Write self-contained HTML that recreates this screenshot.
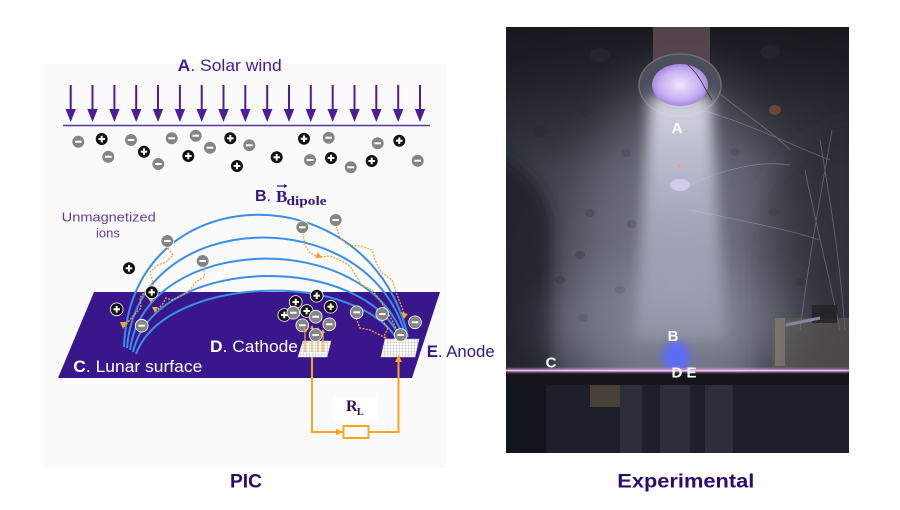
<!DOCTYPE html>
<html><head><meta charset="utf-8"><style>
html,body{margin:0;padding:0;background:#fff;}
svg{display:block;}
text{font-family:"Liberation Sans",sans-serif;}
.serif{font-family:"Liberation Serif",serif;}
</style></head><body>
<svg width="900" height="510" viewBox="0 0 900 510" xmlns="http://www.w3.org/2000/svg">
<defs>
  <g id="m"><circle r="6.4" fill="#858585" stroke="#fff" stroke-width="0.8"/><line x1="-3.3" y1="0" x2="3.3" y2="0" stroke="#fff" stroke-width="2"/></g>
  <g id="p"><circle r="6.4" fill="#111" stroke="#fff" stroke-width="0.8"/><line x1="-3.3" y1="0" x2="3.3" y2="0" stroke="#fff" stroke-width="2"/><line x1="0" y1="-3.3" x2="0" y2="3.3" stroke="#fff" stroke-width="2"/></g>
  <g id="ar"><line x1="0" y1="85" x2="0" y2="112" stroke="#4b1d96" stroke-width="2"/><polygon points="-5.2,109 5.2,109 0,122" fill="#4b1d96"/></g>
  <pattern id="grid" width="3" height="3" patternUnits="userSpaceOnUse"><rect width="3" height="3" fill="#fff"/><path d="M0,0H3M0,0V3" stroke="#999" stroke-width="0.6"/></pattern>
  <clipPath id="ph"><rect x="506" y="27" width="343" height="426"/></clipPath>
  <radialGradient id="bg" cx="680" cy="280" r="300" gradientUnits="userSpaceOnUse">
    <stop offset="0" stop-color="#5e606c"/><stop offset="0.5" stop-color="#42444f"/><stop offset="1" stop-color="#24252d"/>
  </radialGradient>
  <linearGradient id="topdark" x1="0" y1="27" x2="0" y2="170" gradientUnits="userSpaceOnUse">
    <stop offset="0" stop-color="#15161c" stop-opacity="0.85"/><stop offset="1" stop-color="#15161c" stop-opacity="0"/>
  </linearGradient>
  <linearGradient id="beam" x1="0" y1="95" x2="0" y2="380" gradientUnits="userSpaceOnUse">
    <stop offset="0" stop-color="#eef0ff" stop-opacity="0.85"/><stop offset="0.4" stop-color="#d0d4ea" stop-opacity="0.6"/><stop offset="1" stop-color="#b8bcd4" stop-opacity="0.2"/>
  </linearGradient>
  <radialGradient id="noz" cx="0.5" cy="0.5" r="0.5">
    <stop offset="0" stop-color="#efe4ff"/><stop offset="0.7" stop-color="#c9b2f2"/><stop offset="1" stop-color="#a68ae0"/>
  </radialGradient>
  <filter id="b25" filterUnits="userSpaceOnUse" x="380" y="-100" width="600" height="700"><feGaussianBlur stdDeviation="22"/></filter>
  <filter id="b12" filterUnits="userSpaceOnUse" x="380" y="-100" width="600" height="700"><feGaussianBlur stdDeviation="12"/></filter>
  <filter id="b8" filterUnits="userSpaceOnUse" x="380" y="-100" width="600" height="700"><feGaussianBlur stdDeviation="7"/></filter>
  <filter id="b4" filterUnits="userSpaceOnUse" x="380" y="-100" width="600" height="700"><feGaussianBlur stdDeviation="4"/></filter>
  <filter id="b1" filterUnits="userSpaceOnUse" x="380" y="-100" width="600" height="700"><feGaussianBlur stdDeviation="1.2"/></filter>
</defs>

<!-- LEFT PANEL -->
<rect x="43" y="64" width="404" height="404" fill="#fafafa"/>
<text x="177.7" y="71" font-size="17" fill="#4a1a96" textLength="104" lengthAdjust="spacingAndGlyphs"><tspan font-weight="bold">A</tspan>. Solar wind</text>

<g>
<use href="#ar" x="70.7"/><use href="#ar" x="92.5"/><use href="#ar" x="114.4"/><use href="#ar" x="136.2"/><use href="#ar" x="158.0"/><use href="#ar" x="179.9"/><use href="#ar" x="201.7"/><use href="#ar" x="223.5"/><use href="#ar" x="245.3"/><use href="#ar" x="267.2"/><use href="#ar" x="289.0"/><use href="#ar" x="310.8"/><use href="#ar" x="332.7"/><use href="#ar" x="354.5"/><use href="#ar" x="376.3"/><use href="#ar" x="398.2"/><use href="#ar" x="420.0"/>
</g>
<line x1="63" y1="125.5" x2="430" y2="125.5" stroke="#5a32a8" stroke-width="1.4"/>

<g>
<use href="#m" x="78.3" y="141.7"/><use href="#p" x="101.7" y="139"/><use href="#m" x="108.3" y="156.7"/><use href="#m" x="131" y="140"/><use href="#p" x="144" y="151.7"/><use href="#m" x="158.3" y="164"/><use href="#m" x="171.7" y="138.3"/><use href="#m" x="195.7" y="135.7"/><use href="#p" x="188.3" y="156"/><use href="#m" x="210" y="147.7"/><use href="#p" x="230.3" y="138.3"/><use href="#p" x="237" y="166"/><use href="#m" x="249.3" y="145.3"/><use href="#p" x="276.7" y="157.3"/><use href="#p" x="304" y="138.7"/><use href="#m" x="328.7" y="137.7"/><use href="#m" x="310" y="160"/><use href="#p" x="331" y="158"/><use href="#m" x="350.7" y="167.3"/><use href="#p" x="371.7" y="161"/><use href="#m" x="377.7" y="143.3"/><use href="#p" x="399.3" y="140.7"/><use href="#m" x="417.7" y="160.7"/>
</g>

<!-- B label -->
<text x="255" y="201" font-size="16" fill="#3a1480"><tspan font-weight="bold">B</tspan>.</text>
<text class="serif" x="276" y="202" font-size="17" font-weight="bold" fill="#3a1480">B</text>
<line x1="277" y1="186" x2="284" y2="186" stroke="#3a1480" stroke-width="1.2"/>
<polygon points="284,184 287.5,186 284,188" fill="#3a1480"/>
<text class="serif" x="286.5" y="205" font-size="12.5" font-weight="bold" fill="#3a1480" textLength="40" lengthAdjust="spacingAndGlyphs">dipole</text>

<text x="61.7" y="221.7" font-size="13" fill="#6a3aa0" textLength="94" lengthAdjust="spacingAndGlyphs">Unmagnetized</text>
<text x="96" y="237.7" font-size="13" fill="#6a3aa0">ions</text>

<!-- surface -->
<polygon points="94,292 440,292 412,378 58,378" fill="#3a168c"/>

<!-- field lines -->
<g fill="none" stroke="#3a8ee6" stroke-width="2">
<path d="M124,347 C130,175 370,170 408,337"/>
<path d="M127,348 C138,205 372,200 406,338"/>
<path d="M130,350 C146,232 370,228 404,340"/>
<path d="M133,352 C155,255 365,250 402,342"/>
<path d="M136,354 C165,275 360,268 400,344"/>
</g>

<!-- trajectories -->
<g fill="none" stroke="#f2a531" stroke-width="1.3" stroke-dasharray="2 1.3">
<polyline points="168,248 173,255 166,262 158,265 150,272 153,282 146,290 140,298 141,308 134,315 128,322 124,327"/>
<polyline points="203,267 205,276 196,282 190,290 181,296 172,300 166,298 162,305 156,311"/>
<polyline points="303,233 305,245 310,253 318,257 330,256 342,261 350,266 356,276 362,285 372,290 380,300 386,310 392,320 398,333"/>
<polyline points="336,226 340,238 348,245 360,246 372,250 376,262 381,272 392,280 396,292 401,305 405,316"/>
<polyline points="356,318 360,328 370,330 380,335 392,342"/>
<polyline points="382,320 388,328 384,336 390,342"/>
</g>
<g fill="#f2a531">
<polygon points="120,322 127,322 123,329"/><polygon points="152,307 158,307 155,313"/><polygon points="318,252 322,258 315,258"/><polygon points="401,312 408,314 404,319"/><polygon points="148,298 154,298 151,303"/>
</g>

<!-- particles lower -->
<g>
<use href="#m" x="167.3" y="241"/><use href="#m" x="202.7" y="261"/><use href="#p" x="129" y="268.3"/><use href="#p" x="151.7" y="292.3"/><use href="#p" x="116.7" y="309.3"/><use href="#m" x="141.7" y="325.7"/>
<use href="#m" x="302.3" y="227.3"/><use href="#m" x="335.7" y="220"/>
<use href="#p" x="284.3" y="315"/><use href="#p" x="295.7" y="302"/><use href="#p" x="316.7" y="295.7"/><use href="#p" x="330.7" y="306.7"/><use href="#p" x="306.7" y="311"/>
<use href="#m" x="293.3" y="312.7"/><use href="#m" x="315.7" y="316.7"/><use href="#m" x="302.3" y="325.3"/><use href="#m" x="329.3" y="324.3"/>
<use href="#m" x="356.7" y="312.3"/><use href="#m" x="382.3" y="314"/><use href="#m" x="415" y="322.3"/>
</g>

<!-- cathode / anode grids -->
<polygon points="303,341 331,341 327,357 298,357" fill="url(#grid)" stroke="#ccc" stroke-width="0.6"/>
<polygon points="385,339 419,339 415,357 381,357" fill="url(#grid)" stroke="#ccc" stroke-width="0.6"/>
<g stroke="#f2a531" stroke-width="1.2">
<line x1="305" y1="352" x2="305" y2="331"/><line x1="312" y1="352" x2="312" y2="328"/><line x1="318" y1="352" x2="318" y2="330"/><line x1="323" y1="352" x2="323" y2="332"/>
</g>
<g fill="#f2a531"><polygon points="303,332 307,332 305,328"/><polygon points="310,329 314,329 312,325"/><polygon points="316,331 320,331 318,327"/><polygon points="321,333 325,333 323,329"/></g>
<use href="#m" x="315.7" y="335"/>
<use href="#m" x="400.7" y="335"/>

<!-- circuit -->
<g fill="none" stroke="#f5a81e" stroke-width="2">
<path d="M312,357 V432 H343"/>
<rect x="343.5" y="426" width="25" height="12" fill="#fff"/>
<path d="M368.5,432 H398.5 V360"/>
</g>
<polygon points="336,428.5 343,432 336,435.5" fill="#f5a81e"/>
<polygon points="395,362 398.5,355 402,362" fill="#f5a81e"/>
<rect x="333" y="397" width="44" height="23" fill="#fff"/>
<text class="serif" x="346" y="411" font-size="16" font-weight="bold" fill="#2d1060">R</text>
<text class="serif" x="357" y="415" font-size="10" font-weight="bold" fill="#2d1060">L</text>

<!-- labels on surface -->
<text x="73.3" y="372" font-size="17" fill="#fff" textLength="129" lengthAdjust="spacingAndGlyphs"><tspan font-weight="bold">C</tspan>. Lunar surface</text>
<text x="210" y="352" font-size="17" fill="#fff" textLength="88" lengthAdjust="spacingAndGlyphs"><tspan font-weight="bold">D</tspan>. Cathode</text>
<text x="426.7" y="357" font-size="17" fill="#3a1480" textLength="68" lengthAdjust="spacingAndGlyphs"><tspan font-weight="bold">E</tspan>. Anode</text>

<text x="230" y="487.5" font-size="19.5" font-weight="bold" fill="#2d0a6e" textLength="32" lengthAdjust="spacingAndGlyphs">PIC</text>
<text x="617.3" y="487.5" font-size="19.5" font-weight="bold" fill="#2d0a6e" textLength="137" lengthAdjust="spacingAndGlyphs">Experimental</text>

<!-- PHOTO -->
<g clip-path="url(#ph)">
  <rect x="506" y="27" width="343" height="426" fill="url(#bg)"/>
  <rect x="506" y="27" width="343" height="150" fill="url(#topdark)"/>
  <!-- dark side columns -->
  <path d="M490,150 Q540,170 552,220 L552,380 L490,380 Z" fill="#1e1f26" opacity="0.75" filter="url(#b8)"/>
  <path d="M860,120 Q760,150 748,250 L748,380 L860,380 Z" fill="#26272f" opacity="0.55" filter="url(#b12)"/>
  <!-- wall holes -->
  <g fill="#2a2b33" opacity="0.5">
    <ellipse cx="600" cy="55" rx="10" ry="7"/><ellipse cx="770" cy="52" rx="10" ry="7"/><ellipse cx="540" cy="131" rx="8" ry="6"/><ellipse cx="585" cy="112" rx="7" ry="5"/>
    <ellipse cx="626" cy="153" rx="5" ry="4"/><ellipse cx="735" cy="152" rx="5" ry="4"/>
    <ellipse cx="590" cy="213" rx="5" ry="4"/><ellipse cx="632" cy="224" rx="5" ry="4"/><ellipse cx="580" cy="255" rx="5" ry="4"/><ellipse cx="560" cy="280" rx="5" ry="4"/>
    <ellipse cx="620" cy="290" rx="5" ry="4"/><ellipse cx="774" cy="212" rx="5" ry="4"/><ellipse cx="800" cy="282" rx="5" ry="4"/><ellipse cx="583" cy="318" rx="5" ry="4"/>
  </g>
  <ellipse cx="775" cy="110" rx="6" ry="5" fill="#7a4a30" opacity="0.8"/>
  <!-- wires -->
  <g fill="none" stroke="#a8a8b6" stroke-width="0.8" opacity="0.45">
    <path d="M690,65 C720,100 760,120 790,150"/><path d="M700,110 C740,120 780,140 830,160"/><path d="M690,185 C720,170 760,160 790,165"/>
    <path d="M690,210 C740,220 790,230 820,240"/><path d="M820,140 C830,200 840,260 845,330"/><path d="M805,170 C815,220 830,280 840,330"/>
    <path d="M832,130 C820,200 810,250 800,330"/>
  </g>
  <!-- haze -->
  <ellipse cx="680" cy="260" rx="100" ry="190" fill="#c8cce0" opacity="0.22" filter="url(#b25)"/>
  <ellipse cx="672" cy="325" rx="130" ry="55" fill="#a0a4b8" opacity="0.3" filter="url(#b25)"/>
  <!-- pipe -->
  <rect x="653" y="27" width="57" height="36" fill="#5e4a52" opacity="0.85"/>
  <!-- nozzle -->
  <ellipse cx="680" cy="85" rx="41" ry="31" fill="#4c4e5a" stroke="#6c6e7a" stroke-width="1.5"/>
  <!-- beam -->
  <polygon points="650,96 711,96 726,340 634,340" fill="url(#beam)" filter="url(#b8)"/>
  <ellipse cx="680" cy="85" rx="28" ry="21" fill="url(#noz)"/>
  <path d="M688,65 C700,75 705,90 712,100" stroke="#333" stroke-width="0.8" fill="none"/>
  <ellipse cx="680" cy="185" rx="10" ry="6" fill="#d8d0f0" opacity="0.85"/>
  <circle cx="679" cy="166" r="1.8" fill="#f0a080"/>
  <!-- right equipment -->
  <rect x="772" y="318" width="77" height="50" fill="#6a6558" opacity="0.45"/>
  <rect x="775" y="318" width="10" height="48" fill="#8a8276" opacity="0.6"/>
  <rect x="812" y="305" width="25" height="18" fill="#222" opacity="0.8"/>
  <line x1="786" y1="325" x2="820" y2="318" stroke="#8a84a8" stroke-width="3"/>
  <!-- blue glow -->
  <ellipse cx="676" cy="357" rx="14" ry="16" fill="#5a6cff" opacity="0.9" filter="url(#b4)"/>
  <!-- table -->
  <rect x="506" y="372" width="343" height="13" fill="#15151b"/>
  <rect x="506" y="385" width="343" height="68" fill="#1d1f2b"/>
  <g fill="#2c2e3a">
    <rect x="620" y="385" width="22" height="68"/><rect x="660" y="385" width="30" height="68"/><rect x="705" y="385" width="28" height="68"/>
  </g>
  <rect x="590" y="385" width="30" height="22" fill="#5a5040" opacity="0.7"/>
  <rect x="506" y="385" width="40" height="68" fill="#101118" opacity="0.7"/>
  <line x1="506" y1="370.5" x2="849" y2="370.5" stroke="#e6a8e6" stroke-width="3" filter="url(#b1)"/>
  <line x1="506" y1="370.5" x2="849" y2="370.5" stroke="#f0c4f0" stroke-width="1"/>
  <!-- labels -->
  <g font-weight="bold" fill="#fff" font-size="15" text-anchor="middle">
    <text x="677" y="133">A</text>
    <text x="673" y="341">B</text>
    <text x="551" y="367.5">C</text>
    <text x="684" y="377.5">D E</text>
  </g>
</g>
</svg>
</body></html>
